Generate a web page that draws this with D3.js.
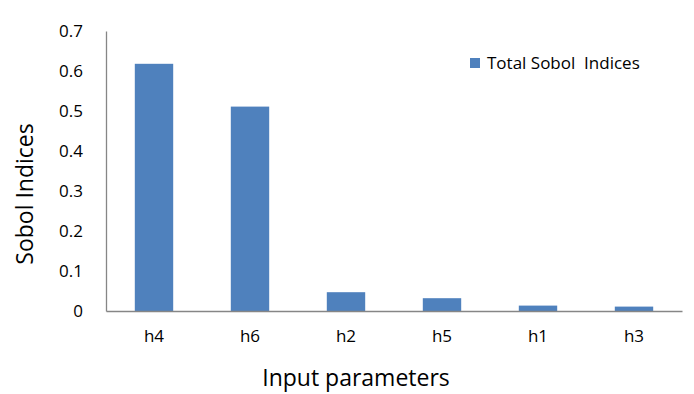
<!DOCTYPE html>
<html>
<head>
<meta charset="utf-8">
<script src="https://cdn.jsdelivr.net/npm/d3@7"></script>
<style>
  body { margin: 0; background: #fff; }
  svg text { font-family: "Open Sans", "Noto Sans", sans-serif; fill: #000; }
</style>
</head>
<body>
<svg id="chart" width="694" height="394"></svg>
<script>
// data
let categories = ["h4", "h6", "h2", "h5", "h1", "h3"];
let total_sobol = [0.618, 0.511, 0.047, 0.032, 0.0135, 0.011];
let y_ticks = [0, 0.1, 0.2, 0.3, 0.4, 0.5, 0.6, 0.7];
let series_name = "Total Sobol  Indices";

function draw_bar_chart(svg_name){

    let chart = d3.select(svg_name);

    let margin = {top: 31, left: 106, right: 12, bottom: 83};
    let width = 694 - margin.left - margin.right,
        height = 394 - margin.top - margin.bottom;

    let g = chart.append("g")
        .attr("transform", "translate(" + margin.left + "," + margin.top + ")");

    // x position scale
    let x = d3.scaleBand()
        .domain(categories)
        .range([0, width])
        .paddingInner(0.6)
        .paddingOuter(0.3);

    // y position scale
    let y = d3.scaleLinear()
        .domain([0, 0.7])
        .range([height, 0]);

    // y axis
    let y_axis = g.append("g")
        .call(d3.axisLeft(y).tickValues(y_ticks).tickSize(0).tickPadding(23)
              .tickFormat(function(d){ return d === 0 ? "0" : d3.format(".1f")(d); }));
    y_axis.select(".domain").attr("stroke", "#868686").attr("stroke-width", 1.3);
    y_axis.selectAll("text").style("font-size", "17px");

    // bars
    g.selectAll(".bar")
        .data(categories).enter()
        .append("rect")
            .attr("class", "bar")
            .attr("x", function(d){ return x(d); })
            .attr("y", function(d, i){ return y(total_sobol[i]); })
            .attr("width", x.bandwidth())
            .attr("height", function(d, i){ return height - y(total_sobol[i]); })
            .attr("fill", "#4f81bd");

    // x axis
    let x_axis = g.append("g")
        .attr("transform", "translate(0," + height + ")")
        .call(d3.axisBottom(x).tickSize(0).tickPadding(19));
    x_axis.select(".domain").attr("stroke", "#868686").attr("stroke-width", 1.3);
    x_axis.selectAll("text").style("font-size", "17px");

    // axis titles
    chart.append("text")
        .attr("transform", "translate(33,194) rotate(-90)")
        .attr("text-anchor", "middle")
        .style("font-size", "23px")
        .text("Sobol Indices");

    chart.append("text")
        .attr("x", 356)
        .attr("y", 386)
        .attr("text-anchor", "middle")
        .style("font-size", "23px")
        .text("Input parameters");

    // legend
    let legend = chart.append("g").attr("transform", "translate(470,58)");
    legend.append("rect")
        .attr("width", 10).attr("height", 10)
        .attr("fill", "#4f81bd");
    legend.append("text")
        .attr("x", 17).attr("y", 11)
        .style("font-size", "17px")
        .style("white-space", "pre")
        .text(series_name);
}

draw_bar_chart("#chart");
</script>
</body>
</html>
